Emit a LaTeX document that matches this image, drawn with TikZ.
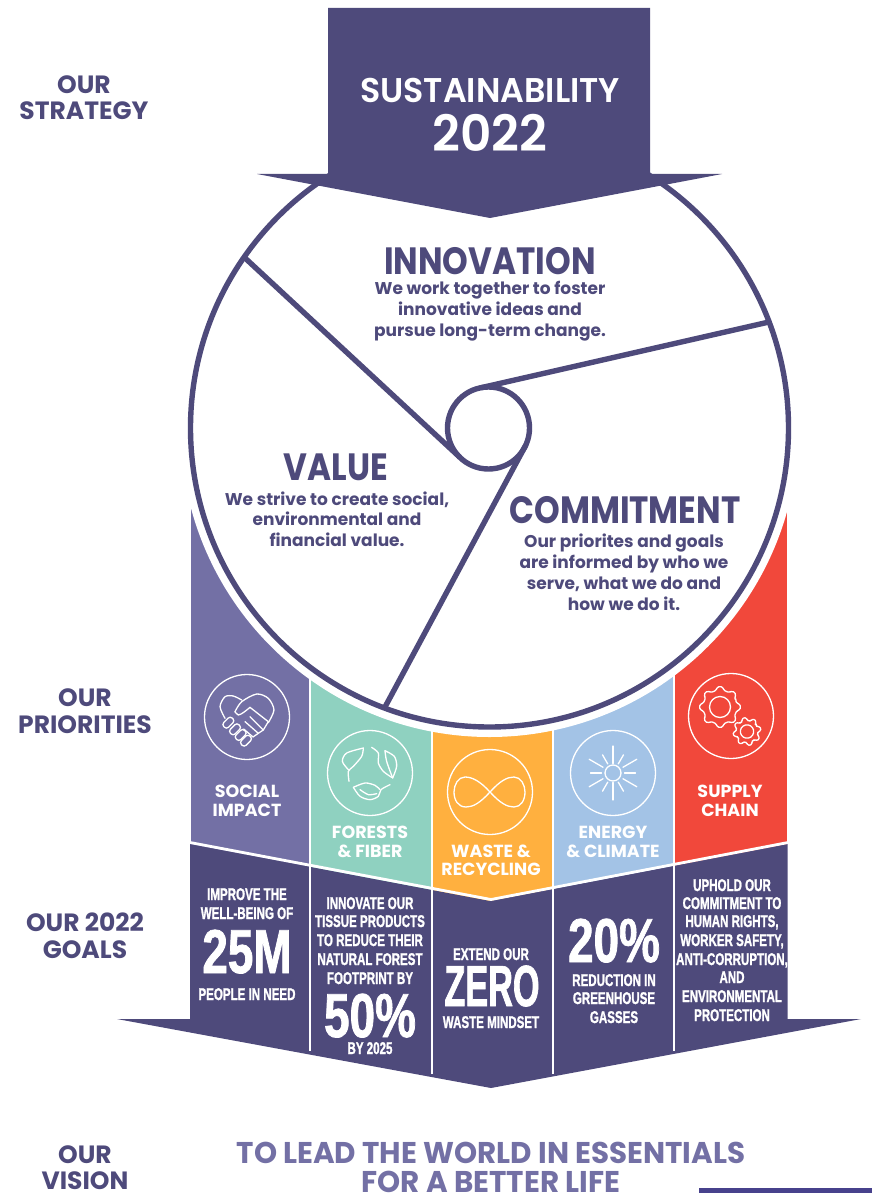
\documentclass[tikz,border=0pt]{standalone}
\usepackage{fontspec}
\setmainfont{Poppins}
\newfontfamily\lblf{Poppins Bold}
\newfontfamily\hdf[FakeStretch=0.86]{Poppins Bold}
\newfontfamily\subf[FakeStretch=1.0]{Poppins Bold}
\newfontfamily\visf[FakeStretch=0.98]{Poppins Bold}
\newfontfamily\regf[FakeStretch=0.97]{Poppins SemiBold}
\newfontfamily\condf[FakeStretch=0.68,FakeBold=1.2]{Liberation Sans Bold}
\newfontfamily\bigf[FakeStretch=0.74,FakeBold=1.2]{Liberation Sans Bold}
\newfontfamily\zerof[FakeStretch=0.59,FakeBold=1.2]{Liberation Sans Bold}
\definecolor{dark}{HTML}{4E4A7B}
\definecolor{lav}{HTML}{7370A5}
\definecolor{teal2}{HTML}{8FD1C0}
\definecolor{oran}{HTML}{FFB03F}
\definecolor{blue2}{HTML}{A3C3E6}
\definecolor{red2}{HTML}{F1483B}
\definecolor{stripe}{HTML}{47418C}
\tikzset{
  lbl/.style={text=dark,font=\lblf\fontsize{25}{25}\selectfont,anchor=base,inner sep=0pt},
  hd/.style={text=dark,font=\hdf\fontsize{38}{38}\selectfont,anchor=base,inner sep=0pt},
  sub/.style={text=dark,font=\subf\fontsize{17}{17}\selectfont,anchor=base,inner sep=0pt},
  pri/.style={text=white,font=\lblf\fontsize{17.5}{17.5}\selectfont,anchor=base,inner sep=0pt},
  gl/.style={text=white,font=\condf\fontsize{17}{17}\selectfont,anchor=base,inner sep=0pt},
  big/.style={text=white,font=\bigf\fontsize{62}{62}\selectfont,anchor=base,inner sep=0pt},
  zer/.style={text=white,font=\zerof\fontsize{58}{58}\selectfont,anchor=base,inner sep=0pt},
  vis/.style={text=lav,font=\visf\fontsize{30}{30}\selectfont,anchor=base,inner sep=0pt},
  ico/.style={draw=white,line width=1.3pt,line cap=round,line join=round},
  sepline/.style={draw=white,line width=2.8pt},
  spoke/.style={draw=dark,line width=5.4pt,line cap=round},
}
\begin{document}
\begin{tikzpicture}[x=1pt,y=-1pt]
\useasboundingbox (0,0) rectangle (872,1193);
% colour columns
\fill[lav] (191,500) rectangle (310,870);
\fill[teal2] (310,500) rectangle (432,895);
\fill[oran] (432,500) -- (553,500) -- (553,890) -- (490,903) -- (432,890) -- cycle;
\fill[blue2] (553,500) rectangle (674,895);
\fill[red2] (674,500) rectangle (787,870);
% goals chevron
\fill[dark] (190,844) -- (490,901) -- (787.5,844) -- (787.5,1019) -- (861,1019) -- (491,1088) -- (117,1019) -- (190,1019) -- cycle;
% separators
\coordinate (s1a) at (310,500); \coordinate (s1b) at (310,1051);
\coordinate (s2a) at (432,500); \coordinate (s2b) at (432,1074);
\coordinate (s3a) at (553,500); \coordinate (s3b) at (553,1074);
\coordinate (s4a) at (674,500); \coordinate (s4b) at (674,1051);
\draw[sepline] (s1a) -- (s1b);
\draw[sepline] (s2a) -- (s2b);
\draw[sepline] (s3a) -- (s3b);
\draw[sepline] (s4a) -- (s4b);
\draw[sepline] (190,842.5) -- (491,899.5) -- (788,842.5);
% circle
\fill[white] (489.5,428) circle (309);
\draw[dark,line width=5.4pt,fill=white] (489.5,428) circle (299);
\node[circle,draw=dark,line width=5.4pt,fill=white,minimum size=82pt,inner sep=0pt,outer sep=0pt] (hub) at (488.5,428) {};
\coordinate (sp1) at (245,258);
\coordinate (sp2) at (769,322);
\coordinate (sp3) at (385,707);
\draw[spoke] (sp1) -- (hub.225);
\draw[spoke] (sp2) -- (hub.100);
\draw[spoke] (sp3) -- (hub.-25);
% top arrow
\fill[dark] (328,8) -- (650,8) -- (650,174) -- (722,174) -- (490,218) -- (257,174) -- (328,174) -- cycle;
% stripe
\fill[stripe] (699,1188) rectangle (872,1193);
% top texts
\node[anchor=base,inner sep=0pt,text=white,font=\regf\fontsize{34.3}{34.3}\selectfont] (t1) at (490,103) {SUSTAINABILITY};
\node[anchor=base,inner sep=0pt,text=white,font=\regf\fontsize{50}{50}\selectfont] (t2) at (490,152) {2022};
% left labels
\node[lbl] (a1) at (84,94) {OUR};
\node[lbl] (a2) at (84,120) {STRATEGY};
\node[lbl] (b1) at (85,706) {OUR};
\node[lbl] (b2) at (85,733) {PRIORITIES};
\node[lbl] (c1) at (85,931) {OUR 2022};
\node[lbl] (c2) at (85,958) {GOALS};
\node[lbl] (d1) at (85,1163) {OUR};
\node[lbl] (d2) at (85,1189) {VISION};
% wheel texts
\node[hd] (i0) at (490,274) {INNOVATION};
\node[sub] (i1) at (490,294) {We work together to foster};
\node[sub] (i2) at (490,315) {innovative ideas and};
\node[sub] (i3) at (490,336) {pursue long-term change.};
\node[hd] (v0) at (336,480) {VALUE};
\node[sub] (v1) at (337,505) {We strive to create social,};
\node[sub] (v2) at (337,525) {environmental and};
\node[sub] (v3) at (337,546) {financial value.};
\node[hd] (m0) at (625,523) {COMMITMENT};
\node[sub] (m1) at (624,547) {Our priorites and goals};
\node[sub] (m2) at (624,568) {are informed by who we};
\node[sub] (m3) at (624,589) {serve, what we do and};
\node[sub] (m4) at (624,610) {how we do it.};
% priorities
\node[pri] (p1) at (247,797) {SOCIAL};
\node[pri] (p1b) at (247,816) {IMPACT};
\node[pri] (p2) at (370,838) {FORESTS};
\node[pri] (p2b) at (370,857) {\& FIBER};
\node[pri] (p3) at (491,857) {WASTE \&};
\node[pri] (p3b) at (491,875) {RECYCLING};
\node[pri] (p4) at (613,838) {ENERGY};
\node[pri] (p4b) at (613,857) {\& CLIMATE};
\node[pri] (p5) at (730,797) {SUPPLY};
\node[pri] (p5b) at (730,816) {CHAIN};
% icon circles
\draw[ico] (247,717) circle (42.5);
\draw[ico] (370,773) circle (42.5);
\draw[ico] (490,792) circle (42.5);
\draw[ico] (613,773) circle (42.5);
\draw[ico] (731,716) circle (42.5);
% handshake
\begin{scope}[shift={(247,717)},x=0.333pt,y=-0.333pt]
\draw[ico] plot[smooth] coordinates {(-66,4)(-81,-31)(-66,-61)(-41,-63)(-16,-51)};
\draw[ico] plot[smooth] coordinates {(-36,-16)(-16,-46)(29,-69)(64,-56)(81,-21)(64,17)};
\draw[ico] plot[smooth] coordinates {(-36,-16)(-26,-6)(-10,-14)(9,-29)};
\draw[ico] (9,-29) -- (64,14) -- (49,39) -- (9,-1);
\draw[ico] (49,39) -- (34,49) -- (-6,14);
\draw[ico] (34,49) -- (18,60) -- (-10,36);
\foreach \cx/\cy in {-56/17,-36/37,-19/54,-3/71}{
  \fill[lav,draw=white,line width=1.3pt,shift={(\cx,\cy)},rotate=45,rounded corners=2.8pt] (-18,-10) rectangle (18,10);
}
\end{scope}
% leaves
\begin{scope}[shift={(370,773)},x=0.333pt,y=-0.333pt]
\draw[ico] plot[smooth] coordinates {(-20,-75)(-70,-60)(-83,-35)(-65,-10)};
\draw[ico] plot[smooth] coordinates {(-20,-75)(-25,-50)(-50,-20)(-65,-5)(-63,25)};
\draw[ico] plot[smooth] coordinates {(45,-67)(73,-50)(80,-20)(68,15)};
\draw[ico] plot[smooth] coordinates {(45,-67)(50,-35)(68,15)};
\draw[ico] plot[smooth] coordinates {(5,-77)(25,-60)(25,-30)(40,-5)(65,13)};
\draw[ico] plot[smooth] coordinates {(-50,43)(-15,30)(15,37)(30,50)};
\draw[ico] plot[smooth] coordinates {(-50,43)(-30,70)(0,80)(25,70)(33,50)(60,35)};
\draw[ico] plot[smooth] coordinates {(-30,50)(-5,65)(20,62)};
\end{scope}
% infinity
\draw[ico] (490,792) .. controls (480,781) and (472,777) .. (465,777) .. controls (458,777) and (454,785) .. (454,792)
  .. controls (454,800) and (458,807) .. (466,807) .. controls (473,807) and (480,803) .. (490,792)
  .. controls (500,781) and (507,777) .. (514,777) .. controls (521,777) and (525,785) .. (525,792)
  .. controls (525,800) and (521,807) .. (514,807) .. controls (507,807) and (500,803) .. (490,792);
% sun
\begin{scope}[shift={(613,773)}]
\draw[ico] (0,0) circle (8);
\foreach \a/\ra/\rb in {90/9.5/27,-90/9.5/27,0/11.5/22.5,180/11.5/22.5,30/11.5/27.5,150/11.5/27.5,-30/11.5/27.5,-150/11.5/27.5,60/10.5/21,120/10.5/21,-60/10.5/21,-120/10.5/21}{
  \draw[ico] (\a:\ra) -- (\a:\rb);
}
\end{scope}
% gears
\begin{scope}[shift={(720,707)}]
\draw[ico] (0,0) circle (10.5);
\draw[ico,rounded corners=1.6pt] (-22.5:17) \foreach \a in {0,45,...,315}{ -- (\a-12:17) -- (\a-8:20.5) -- (\a+8:20.5) -- (\a+12:17) -- (\a+22.5:17)} -- cycle;
\end{scope}
\begin{scope}[shift={(747,731.5)},rotate=12]
\draw[ico] (0,0) circle (6.7);
\draw[ico,rounded corners=1.3pt] (-22.5:11) \foreach \a in {0,45,...,315}{ -- (\a-13:11) -- (\a-9:14) -- (\a+9:14) -- (\a+13:11) -- (\a+22.5:11)} -- cycle;
\end{scope}
% goals
\node[gl] (g11) at (247,900) {IMPROVE THE};
\node[gl] (g12) at (247,919) {WELL-BEING OF};
\node[big] (g13) at (247,973) {25M};
\node[gl] (g14) at (247,1000) {PEOPLE IN NEED};
\node[gl] (g21) at (370,909) {INNOVATE OUR};
\node[gl] (g22) at (370,927) {TISSUE PRODUCTS};
\node[gl] (g23) at (370,946) {TO REDUCE THEIR};
\node[gl] (g24) at (370,965) {NATURAL FOREST};
\node[gl] (g25) at (370,984) {FOOTPRINT BY};
\node[big] (g26) at (370,1037) {50\%};
\node[gl] (g27) at (370,1054) {BY 2025};
\node[gl] (g31) at (491,960) {EXTEND OUR};
\node[zer] (g32) at (492,1006) {ZERO};
\node[gl] (g33) at (491,1028) {WASTE MINDSET};
\node[big] (g41) at (614,962) {20\%};
\node[gl] (g42) at (614,986) {REDUCTION IN};
\node[gl] (g43) at (614,1004) {GREENHOUSE};
\node[gl] (g44) at (614,1023) {GASSES};
\node[gl] (g51) at (732,891) {UPHOLD OUR};
\node[gl] (g52) at (732,909) {COMMITMENT TO};
\node[gl] (g53) at (732,927) {HUMAN RIGHTS,};
\node[gl] (g54) at (732,946) {WORKER SAFETY,};
\node[gl] (g55) at (732,965) {ANTI-CORRUPTION,};
\node[gl] (g56) at (732,983) {AND};
\node[gl] (g57) at (732,1002) {ENVIRONMENTAL};
\node[gl] (g58) at (732,1021) {PROTECTION};
% vision
\node[vis] (w1) at (491,1163) {TO LEAD THE WORLD IN ESSENTIALS};
\node[vis] (w2) at (491,1192) {FOR A BETTER LIFE};
\end{tikzpicture}
\end{document}
